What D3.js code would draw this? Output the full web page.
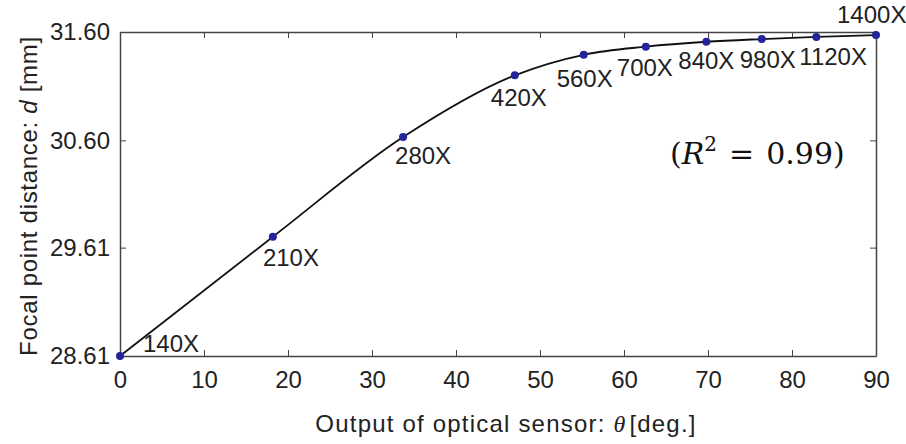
<!DOCTYPE html>
<html>
<head>
<meta charset="utf-8">
<script src="https://cdn.jsdelivr.net/npm/d3@7"></script>
<style>
  body { margin: 0; background: #fff; }
  svg { display: block; }
  .tick text { font-family: "Liberation Sans", Arial, sans-serif; font-size: 24px; fill: #222; }
  .axis path, .axis line { stroke: #444; }
  .ptLabel { font-family: "Liberation Sans", Arial, sans-serif; font-size: 24px; fill: #222; }
  .title { font-family: "Liberation Sans", Arial, sans-serif; font-size: 24px; fill: #222; }
</style>
</head>
<body>
<script>
(function(){

    //data
    var theta = [0, 18.2, 33.7, 47.0, 55.2, 62.6, 69.8, 76.4, 82.9, 90];
    var dist = [28.61, 29.71, 30.63, 31.20, 31.39, 31.465, 31.51, 31.535, 31.555, 31.572];
    var mags = ["140X", "210X", "280X", "420X", "560X", "700X", "840X", "980X", "1120X", "1400X"];
    var xTicks = [0, 10, 20, 30, 40, 50, 60, 70, 80, 90];
    var yTicks = [28.61, 29.61, 30.60, 31.60];

    //label offsets from each point (px)
    var labelDx = [23, -10, -8, -24, -27, -29, -28, -22, -17, -39];
    var labelDy = [-4, 29, 27, 31, 32, 29, 27, 29, 28, -12];

    var width = 906, height = 444;
    var margin = {left: 120, right: 30, top: 32, bottom: 88};

    var svg = d3.select("body").append("svg")
        .attr("width", width)
        .attr("height", height);

    var x = d3.scaleLinear()
        .domain([0, 90])
        .range([margin.left, width - margin.right]);

    var y = d3.scaleLinear()
        .domain([28.61, 31.60])
        .range([height - margin.bottom, margin.top]);

    //box + ticks (inward, mirrored)
    svg.append("g")
        .attr("class", "axis")
        .attr("transform", "translate(0," + y.range()[0] + ")")
        .call(d3.axisBottom(x).tickValues(xTicks).tickSizeInner(-6).tickSizeOuter(0).tickPadding(15))
        .call(function(g){ g.selectAll(".tick text").attr("dy", "0.71em"); });

    svg.append("g")
        .attr("class", "axis")
        .attr("transform", "translate(0," + y.range()[1] + ")")
        .call(d3.axisTop(x).tickValues(xTicks).tickSizeInner(-6).tickSizeOuter(0).tickFormat(""));

    svg.append("g")
        .attr("class", "axis")
        .attr("transform", "translate(" + x.range()[0] + ",0)")
        .call(d3.axisLeft(y).tickValues(yTicks).tickSizeInner(-6).tickSizeOuter(0).tickPadding(10).tickFormat(d3.format(".2f")));

    svg.append("g")
        .attr("class", "axis")
        .attr("transform", "translate(" + x.range()[1] + ",0)")
        .call(d3.axisRight(y).tickValues(yTicks).tickSizeInner(-6).tickSizeOuter(0).tickFormat(""));

    svg.selectAll(".axis .domain").attr("stroke-width", 1.5);

    //data series
    var pts = theta.map(function(t, i){
        return {t: t, d: dist[i], m: mags[i], dx: labelDx[i], dy: labelDy[i]};
    });

    var line = d3.line()
        .x(function(d){ return x(d.t); })
        .y(function(d){ return y(d.d); })
        .curve(d3.curveMonotoneX);

    svg.append("path")
        .datum(pts)
        .attr("fill", "none")
        .attr("stroke", "#111")
        .attr("stroke-width", 1.8)
        .attr("d", line);

    svg.selectAll(".pt")
        .data(pts)
        .enter()
        .append("circle")
        .attr("class", "pt")
        .attr("cx", function(d){ return x(d.t); })
        .attr("cy", function(d){ return y(d.d); })
        .attr("r", 4)
        .attr("fill", "#23239a");

    svg.selectAll(".ptLabel")
        .data(pts)
        .enter()
        .append("text")
        .attr("class", "ptLabel")
        .attr("x", function(d){ return x(d.t) + d.dx; })
        .attr("y", function(d){ return y(d.d) + d.dy; })
        .text(function(d){ return d.m; });

    //axis titles
    var xt = svg.append("text")
        .attr("class", "title")
        .attr("text-anchor", "middle")
        .attr("letter-spacing", 1.2)
        .attr("x", 506)
        .attr("y", 432);
    xt.append("tspan").text("Output of optical sensor: ");
    xt.append("tspan").attr("font-style", "italic").attr("font-family", "Liberation Serif, serif").text("θ");
    xt.append("tspan").attr("dx", 3).text("[deg.]");

    var yt = svg.append("text")
        .attr("class", "title")
        .attr("text-anchor", "middle")
        .attr("letter-spacing", 0.7)
        .attr("transform", "translate(37,196) rotate(-90)");
    yt.append("tspan").text("Focal point distance: ");
    yt.append("tspan").attr("font-style", "italic").text("d");
    yt.append("tspan").text(" [mm]");

    //R squared note
    var r2 = svg.append("text")
        .attr("x", 670)
        .attr("y", 164)
        .attr("font-family", "DejaVu Serif, serif")
        .attr("font-size", 30)
        .attr("fill", "#111");
    r2.append("tspan").text("(");
    r2.append("tspan").attr("font-style", "italic").text("R");
    r2.append("tspan").attr("font-size", 20).attr("dy", -13).text("2");
    r2.append("tspan").attr("dy", 13).attr("dx", 12).text("=");
    r2.append("tspan").attr("dx", 12).text("0.99)");

})();
</script>
</body>
</html>
